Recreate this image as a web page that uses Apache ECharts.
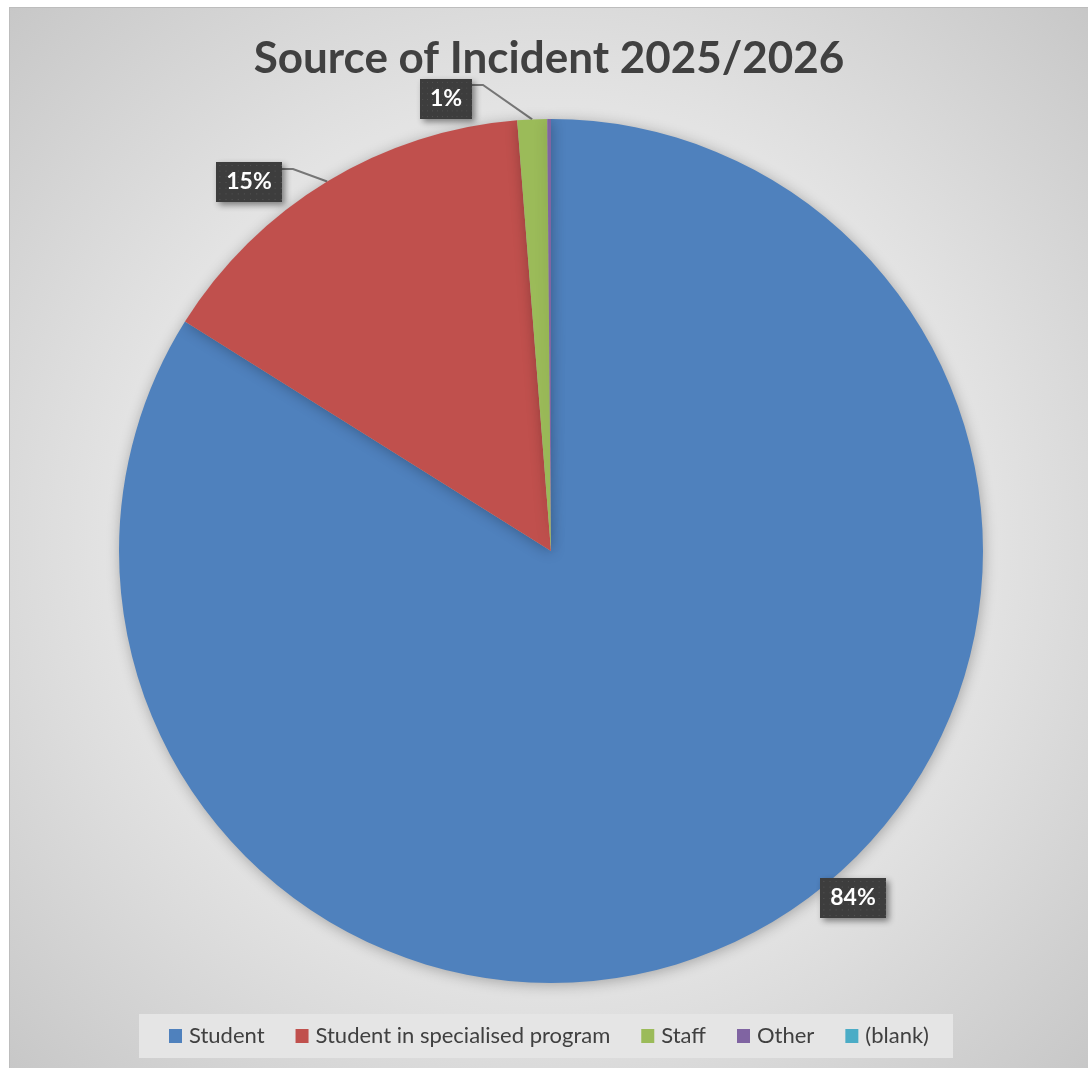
<!DOCTYPE html>
<html>
<head>
<meta charset="utf-8">
<script src="https://cdn.jsdelivr.net/npm/echarts@6/dist/echarts.min.js"></script>
<style>
  html, body { margin: 0; padding: 0; background: #ffffff; }
  #chart {
    position: absolute;
    left: 9px;
    top: 7px;
    width: 1079px;
    height: 1061px;
    box-sizing: border-box;
    border-left: 1px solid #bdbdbd;
    border-top: 1px solid #bdbdbd;
  }
</style>
</head>
<body>
<div id="chart"></div>
<script>
const categories = ["Student", "Student in specialised program", "Staff", "Other", "(blank)"];
const counts = [605, 107, 8, 1, 0];
const sliceColors = ["#4f81bd", "#c0504d", "#9bbb59", "#8064a2", "#4bacc6"];
const showLabel = [true, true, true, false, false];

// where the dark label boxes sit (chart pixels), Excel "best fit" style
const labelSpots = {
  0: { x: 843, y: 890 },
  1: { x: 239, y: 174, anchorX: 271, anchorY: 161 },
  2: { x: 436, y: 91, anchorX: 461, anchorY: 77 },
};

function dottedTile(w, h) {
  const c = document.createElement("canvas");
  c.width = w;
  c.height = h;
  const ctx = c.getContext("2d");
  ctx.fillStyle = "#3d3d3d";
  ctx.fillRect(0, 0, w, h);
  ctx.fillStyle = "#565656";
  for (let y = 3; y < h; y += 6) {
    for (let x = 3; x < w; x += 6) {
      ctx.fillRect(x, y, 1, 1);
    }
  }
  return c;
}

const chart = echarts.init(document.getElementById("chart"));
const tile = dottedTile(64, 42);

chart.setOption({
  backgroundColor: {
    type: "radial",
    x: 0.5,
    y: 0.5,
    r: 0.75,
    colorStops: [
      { offset: 0, color: "#efefef" },
      { offset: 0.55, color: "#e3e3e3" },
      { offset: 1, color: "#c4c4c4" },
    ],
  },
  animation: false,
  title: {
    text: "Source of Incident 2025/2026",
    left: "center",
    top: 24,
    textStyle: {
      fontFamily: "Lato",
      fontWeight: "bold",
      fontSize: 44,
      color: "#404040",
    },
  },
  legend: {
    data: categories,
    top: 1006,
    left: "center",
    backgroundColor: "#e5e5e5",
    padding: [11, 24, 11, 30],
    itemGap: 31,
    itemWidth: 13,
    itemHeight: 14,
    icon: "rect",
    textStyle: {
      fontFamily: "Lato",
      fontSize: 22,
      color: "#404040",
      padding: [0, 0, 0, 2],
    },
  },
  series: [
    {
      type: "pie",
      center: [541, 543],
      radius: 432,
      startAngle: 90,
      clockwise: true,
      avoidLabelOverlap: false,
      percentPrecision: 0,
      silent: true,
      itemStyle: {
        borderWidth: 0,
        shadowBlur: 14,
        shadowColor: "rgba(0,0,0,0.28)",
        shadowOffsetX: 1,
        shadowOffsetY: 2,
      },
      label: {
        position: "outside",
        formatter: "{d}%",
        fontFamily: "Lato",
        fontWeight: "bold",
        fontSize: 23,
        color: "#ffffff",
        backgroundColor: { image: tile },
        padding: [9, 10, 8, 10],
        shadowBlur: 6,
        shadowColor: "rgba(0,0,0,0.45)",
        shadowOffsetX: 3,
        shadowOffsetY: 3,
      },
      labelLine: {
        show: true,
        length: 10,
        length2: 10,
        lineStyle: { color: "#767676", width: 2 },
      },
      labelLayout: function (params) {
        const spot = labelSpots[params.dataIndex];
        if (!spot) return {};
        const out = { x: spot.x, y: spot.y, align: "center", verticalAlign: "middle" };
        if (spot.anchorX && params.labelLinePoints) {
          const edge = params.labelLinePoints[0];
          out.labelLinePoints = [
            edge,
            [spot.anchorX + 12, spot.anchorY],
            [spot.anchorX, spot.anchorY],
          ];
        }
        return out;
      },
      data: categories.map((name, i) => ({
        name: name,
        value: counts[i],
        itemStyle: { color: sliceColors[i] },
        label: { show: showLabel[i] },
        labelLine: { show: !!(labelSpots[i] && labelSpots[i].anchorX) },
      })),
    },
  ],
});
</script>
</body>
</html>
